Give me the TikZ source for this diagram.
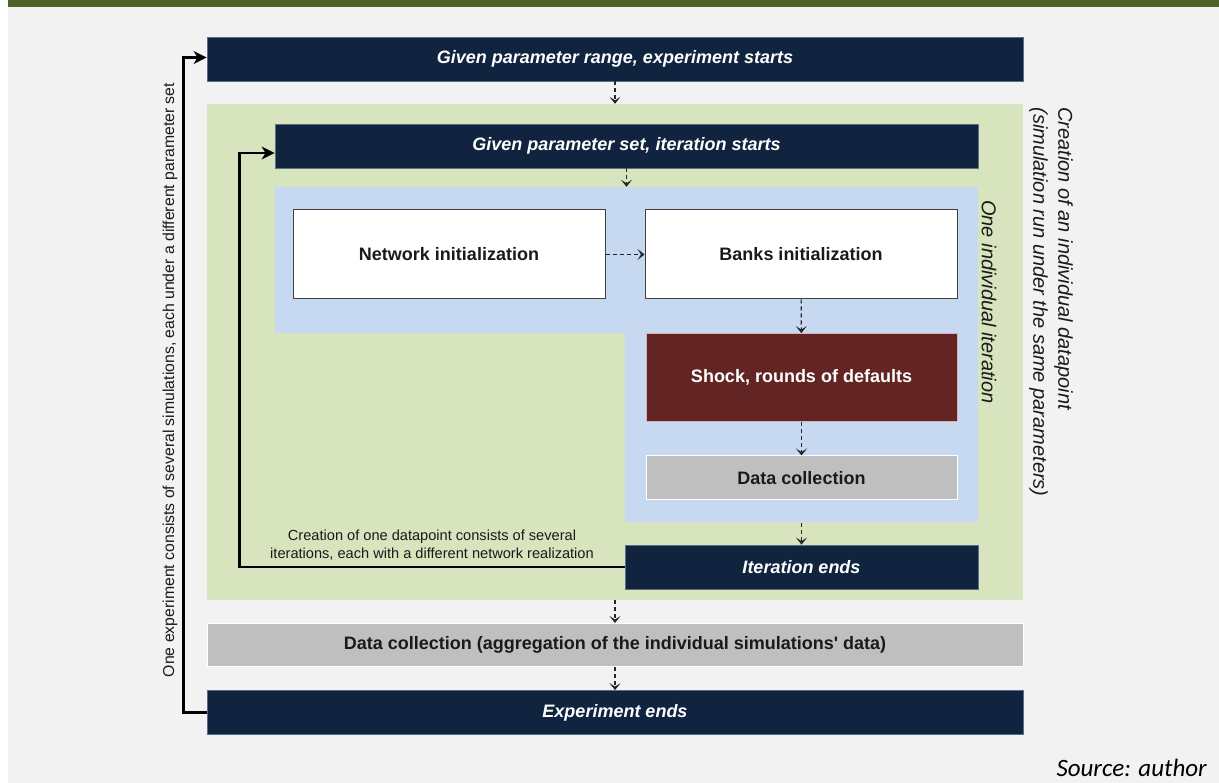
\documentclass[tikz,border=0pt]{standalone}
\usepackage{fontspec}
\setmainfont{Liberation Sans}
\newfontfamily\captionfont{Carlito}
\usetikzlibrary{arrows.meta}
\definecolor{navy}{HTML}{10243F}
\definecolor{navyedge}{HTML}{5A6E8C}
\definecolor{panelgreen}{HTML}{D7E4BD}
\definecolor{panelblue}{HTML}{C6D9F1}
\definecolor{shockred}{HTML}{632523}
\definecolor{shockedge}{HTML}{D9B3B3}
\definecolor{lightgray}{HTML}{BFBFBF}
\definecolor{pagebg}{HTML}{F2F2F2}
\definecolor{barolive}{HTML}{4F6228}
\definecolor{inktext}{HTML}{1A1A1A}
\tikzset{
  box/.style={rectangle, inner sep=0pt, anchor=center},
  navybox/.style={box, fill=navy, draw=navyedge, line width=0.8pt, text=white,
    font=\bfseries\itshape\fontsize{18}{21}\selectfont},
  whitebox/.style={box, fill=white, draw=black!75, line width=1pt, text=inktext,
    font=\bfseries\fontsize{18}{21}\selectfont},
  graybox/.style={box, fill=lightgray, draw=white, line width=1pt, text=inktext,
    font=\bfseries\fontsize{18}{21}\selectfont},
  shockbox/.style={box, fill=shockred, draw=shockedge, line width=0.8pt, text=white,
    font=\bfseries\fontsize{18}{21}\selectfont},
  panel/.style={box, draw=none},
  flow/.style={dashed, dash pattern=on 4pt off 3pt, line width=1.1pt, black!85,
    -{Stealth[length=7pt,width=11pt,inset=3.5pt]}},
  loop/.style={line width=2.8pt, black, line join=miter,
    -{Stealth[length=13pt,width=13pt,inset=4pt]}},
  note/.style={text=inktext, font=\fontsize{14.6}{18}\selectfont, align=center},
  sidenote/.style={text=inktext, font=\itshape\fontsize{20}{25}\selectfont, align=left},
}
\begin{document}
\begin{tikzpicture}[x=1pt,y=-1pt]
  % page background and top bar
  \useasboundingbox (0,0) rectangle (1219,783);
  \fill[white] (0,0) rectangle (1219,783);
  \fill[pagebg] (8,7) rectangle (1219,783);
  \fill[barolive] (8,0) rectangle (1219,7);

  % panels
  \node[panel, fill=panelgreen, minimum width=816pt, minimum height=496pt] (datapoint) at (615,352) {};
  \node[panel, fill=panelblue, minimum width=703pt, minimum height=146pt] (itertop) at (626.5,260) {};
  \node[panel, fill=panelblue, minimum width=353pt, minimum height=190pt] (iterbot) at (801.5,427.5) {};

  % experiment level
  \node[navybox, minimum width=816pt, minimum height=44pt] (expstart) at (615,59) {Given parameter range, experiment starts};
  \node[graybox, minimum width=816pt, minimum height=43pt] (aggregate) at (615,645) {Data collection (aggregation of the individual simulations\textquotesingle\ data)};
  \node[navybox, minimum width=816pt, minimum height=44pt] (expend) at (615,712.5) {Experiment ends};

  % iteration level
  \node[navybox, minimum width=703pt, minimum height=44pt] (iterstart) at (626.5,146) {Given parameter set, iteration starts};
  \node[whitebox, minimum width=312pt, minimum height=89pt] (netinit) at (449,254.5) {Network initialization};
  \node[whitebox, minimum width=312pt, minimum height=89pt] (bankinit) at (801,254.5) {Banks initialization};
  \node[shockbox, minimum width=311pt, minimum height=88pt] (shock) at (801.5,377.5) {Shock, rounds of defaults};
  \node[graybox, minimum width=311pt, minimum height=44pt] (collect) at (801.5,478) {Data collection};
  \node[navybox, minimum width=353pt, minimum height=44pt] (iterend) at (801.5,567) {Iteration ends};

  % flow
  \draw[flow] (expstart) -- (datapoint);
  \draw[flow] (iterstart) -- (itertop);
  \draw[flow] (netinit) -- (bankinit);
  \draw[flow] (bankinit) -- (shock);
  \draw[flow] (shock) -- (collect);
  \draw[flow] (iterbot) -- (iterend);
  \draw[flow] (datapoint) -- (aggregate);
  \draw[flow] (aggregate) -- (expend);

  % loops
  \draw[loop] (iterend.west) -- ++(-385,0) |- ([yshift=-7pt]iterstart.west);
  \draw[loop] (expend.west) -- ++(-23,0) |- ([yshift=1.5pt]expstart.west);

  % annotations
  \node[note] (loopnote) at (432,545) {Creation of one datapoint consists of several\\iterations, each with a different network realization};
  \node[note, font=\fontsize{15.8}{18}\selectfont, rotate=90] (explabel) at (170,380) {One experiment consists of several simulations, each under a different parameter set};
  \node[sidenote, rotate=-90] (iterlabel) at (989,302) {One individual iteration};
  \node[sidenote, rotate=-90] (dplabel) at (1051,302) {Creation of an individual datapoint\\(simulation run under the same parameters)};
  \node[anchor=base east, font=\captionfont\itshape\fontsize{25}{28}\selectfont, text=black, inner sep=0pt] (source) at (1207,776) {Source: author};
\end{tikzpicture}
\end{document}
